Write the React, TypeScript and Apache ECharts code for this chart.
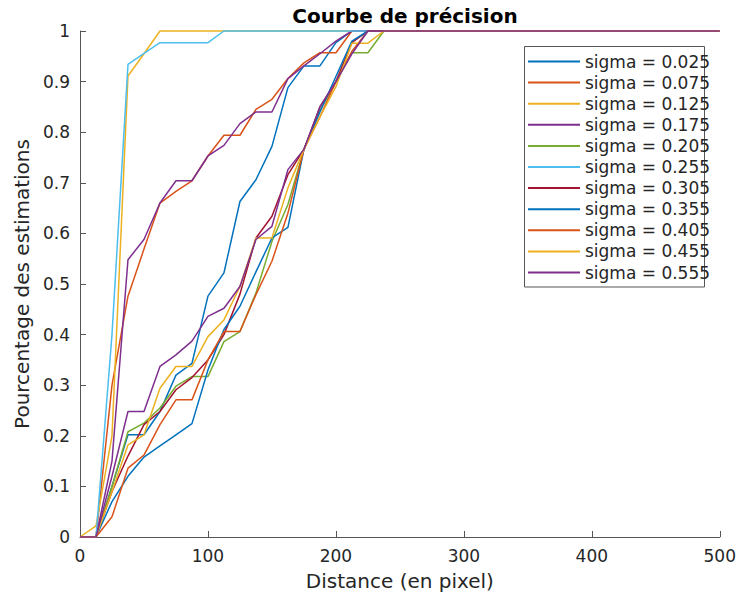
import React, { useEffect, useRef } from "react";
import * as echarts from "echarts";

// Distance grid (pixels)
const distances = [0, 12.5, 25, 37.5, 50, 62.5, 75, 87.5, 100, 112.5, 125, 137.5, 150, 162.5, 175, 187.5, 200, 212.5, 225, 237.5, 500];

const sigmaLabels = [
  "sigma = 0.025", "sigma = 0.075", "sigma = 0.125", "sigma = 0.175", "sigma = 0.205", "sigma = 0.255",
  "sigma = 0.305", "sigma = 0.355", "sigma = 0.405", "sigma = 0.455", "sigma = 0.555",
];

const s025 = [0, 0, 0.10, 0.202, 0.202, 0.248, 0.32, 0.343, 0.476, 0.522, 0.663, 0.706, 0.772, 0.888, 0.931, 0.931, 0.977, 1, 1, 1, 1];
const s075 = [0, 0, 0.30, 0.476, 0.569, 0.66, 0.683, 0.704, 0.753, 0.794, 0.794, 0.845, 0.865, 0.906, 0.937, 0.957, 0.957, 1, 1, 1, 1];
const s125 = [0, 0.022, 0.20, 0.911, 0.955, 1, 1, 1, 1, 1, 1, 1, 1, 1, 1, 1, 1, 1, 1, 1, 1];
const s175 = [0, 0, 0.15, 0.548, 0.588, 0.66, 0.704, 0.704, 0.753, 0.774, 0.817, 0.84, 0.84, 0.906, 0.931, 0.955, 0.98, 1, 1, 1, 1];
const s205 = [0, 0, 0.10, 0.208, 0.225, 0.255, 0.298, 0.317, 0.317, 0.386, 0.406, 0.482, 0.584, 0.657, 0.766, 0.842, 0.90, 0.957, 0.957, 1, 1];
const s255 = [0, 0, 0.40, 0.934, 0.956, 0.977, 0.977, 0.977, 0.977, 1, 1, 1, 1, 1, 1, 1, 1, 1, 1, 1, 1];
const s305 = [0, 0, 0.09, 0.16, 0.222, 0.248, 0.291, 0.315, 0.35, 0.40, 0.48, 0.591, 0.634, 0.716, 0.766, 0.85, 0.90, 0.977, 1, 1, 1];
const s355 = [0, 0, 0.07, 0.12, 0.158, 0.18, 0.202, 0.224, 0.33, 0.41, 0.456, 0.524, 0.591, 0.612, 0.766, 0.84, 0.91, 0.98, 1, 1, 1];
const s405 = [0, 0, 0.04, 0.136, 0.162, 0.222, 0.271, 0.271, 0.35, 0.406, 0.406, 0.479, 0.545, 0.64, 0.766, 0.83, 0.90, 0.96, 1, 1, 1];
const s455 = [0, 0, 0.09, 0.182, 0.202, 0.294, 0.337, 0.337, 0.396, 0.429, 0.495, 0.591, 0.591, 0.69, 0.766, 0.83, 0.89, 0.976, 0.976, 1, 1];
const s555 = [0, 0, 0.12, 0.248, 0.248, 0.337, 0.36, 0.387, 0.436, 0.452, 0.495, 0.588, 0.614, 0.726, 0.766, 0.85, 0.90, 0.955, 1, 1, 1];

const seriesValues = [s025, s075, s125, s175, s205, s255, s305, s355, s405, s455, s555];

const colors = [
  "#0072BD", "#D95319", "#EDB120", "#7E2F8E", "#77AC30", "#4DBEEE",
  "#A2142F", "#0072BD", "#D95319", "#EDB120", "#7E2F8E",
];

const FONT = "DejaVu Sans";

export default function App() {
  const ref = useRef<HTMLDivElement>(null);
  useEffect(() => {
    if (!ref.current) return;
    const chart = echarts.init(ref.current, undefined, { renderer: "svg" });
    const series = seriesValues.map((vals, i) => ({
      name: sigmaLabels[i],
      type: "line",
      data: vals.map((v, j) => [distances[j], v]),
      symbol: "none",
      clip: false,
      lineStyle: { width: 1.5, color: colors[i] },
      itemStyle: { color: colors[i] },
    }));
    chart.setOption({
      animation: false,
      backgroundColor: "#ffffff",
      textStyle: { fontFamily: FONT },
      title: {
        text: "Courbe de précision",
        left: 400,
        textAlign: "center",
        top: 1,
        textStyle: { fontFamily: FONT, fontSize: 20, fontWeight: "bold", color: "#000" },
      },
      grid: { left: 80, right: 19, top: 31, bottom: 62, containLabel: false },
      xAxis: {
        type: "value",
        min: 0,
        max: 500,
        interval: 100,
        name: "Distance (en pixel)",
        nameLocation: "middle",
        nameGap: 34,
        nameTextStyle: { fontFamily: FONT, fontSize: 20, color: "#262626" },
        axisLine: { show: true, lineStyle: { color: "#555", width: 1 } },
        axisTick: { show: true, inside: true, length: 6, lineStyle: { color: "#555" } },
        axisLabel: { fontFamily: FONT, fontSize: 17, color: "#262626", margin: 10 },
        splitLine: { show: false },
      },
      yAxis: {
        type: "value",
        min: 0,
        max: 1,
        interval: 0.1,
        name: "Pourcentage des estimations",
        nameLocation: "middle",
        nameGap: 48,
        nameTextStyle: { fontFamily: FONT, fontSize: 20, color: "#262626" },
        axisLine: { show: true, lineStyle: { color: "#555", width: 1 } },
        axisTick: { show: true, inside: true, length: 6, lineStyle: { color: "#555" } },
        axisLabel: { fontFamily: FONT, fontSize: 17, color: "#262626", margin: 10 },
        splitLine: { show: false },
      },
      legend: {
        orient: "vertical",
        left: 524,
        top: 47,
        padding: [6, 4, 5, 4],
        itemWidth: 52,
        itemHeight: 14,
        itemGap: 4.1,
        icon: "path://M0,6 L52,6 L52,8 L0,8 Z",
        textStyle: { fontFamily: FONT, fontSize: 17, color: "#262626" },
        data: sigmaLabels,
      },
      graphic: [
        {
          type: "rect",
          z: 3,
          shape: { x: 524.5, y: 46.5, width: 180, height: 240.5 },
          style: { fill: "#fff", stroke: "#555", lineWidth: 1 },
        },
      ],
      series,
    });
    return () => chart.dispose();
  }, []);
  return (
    <div
      ref={ref}
      style={{ position: "fixed", left: 0, top: 0, width: 739, height: 599, background: "#fff" }}
    />
  );
}
